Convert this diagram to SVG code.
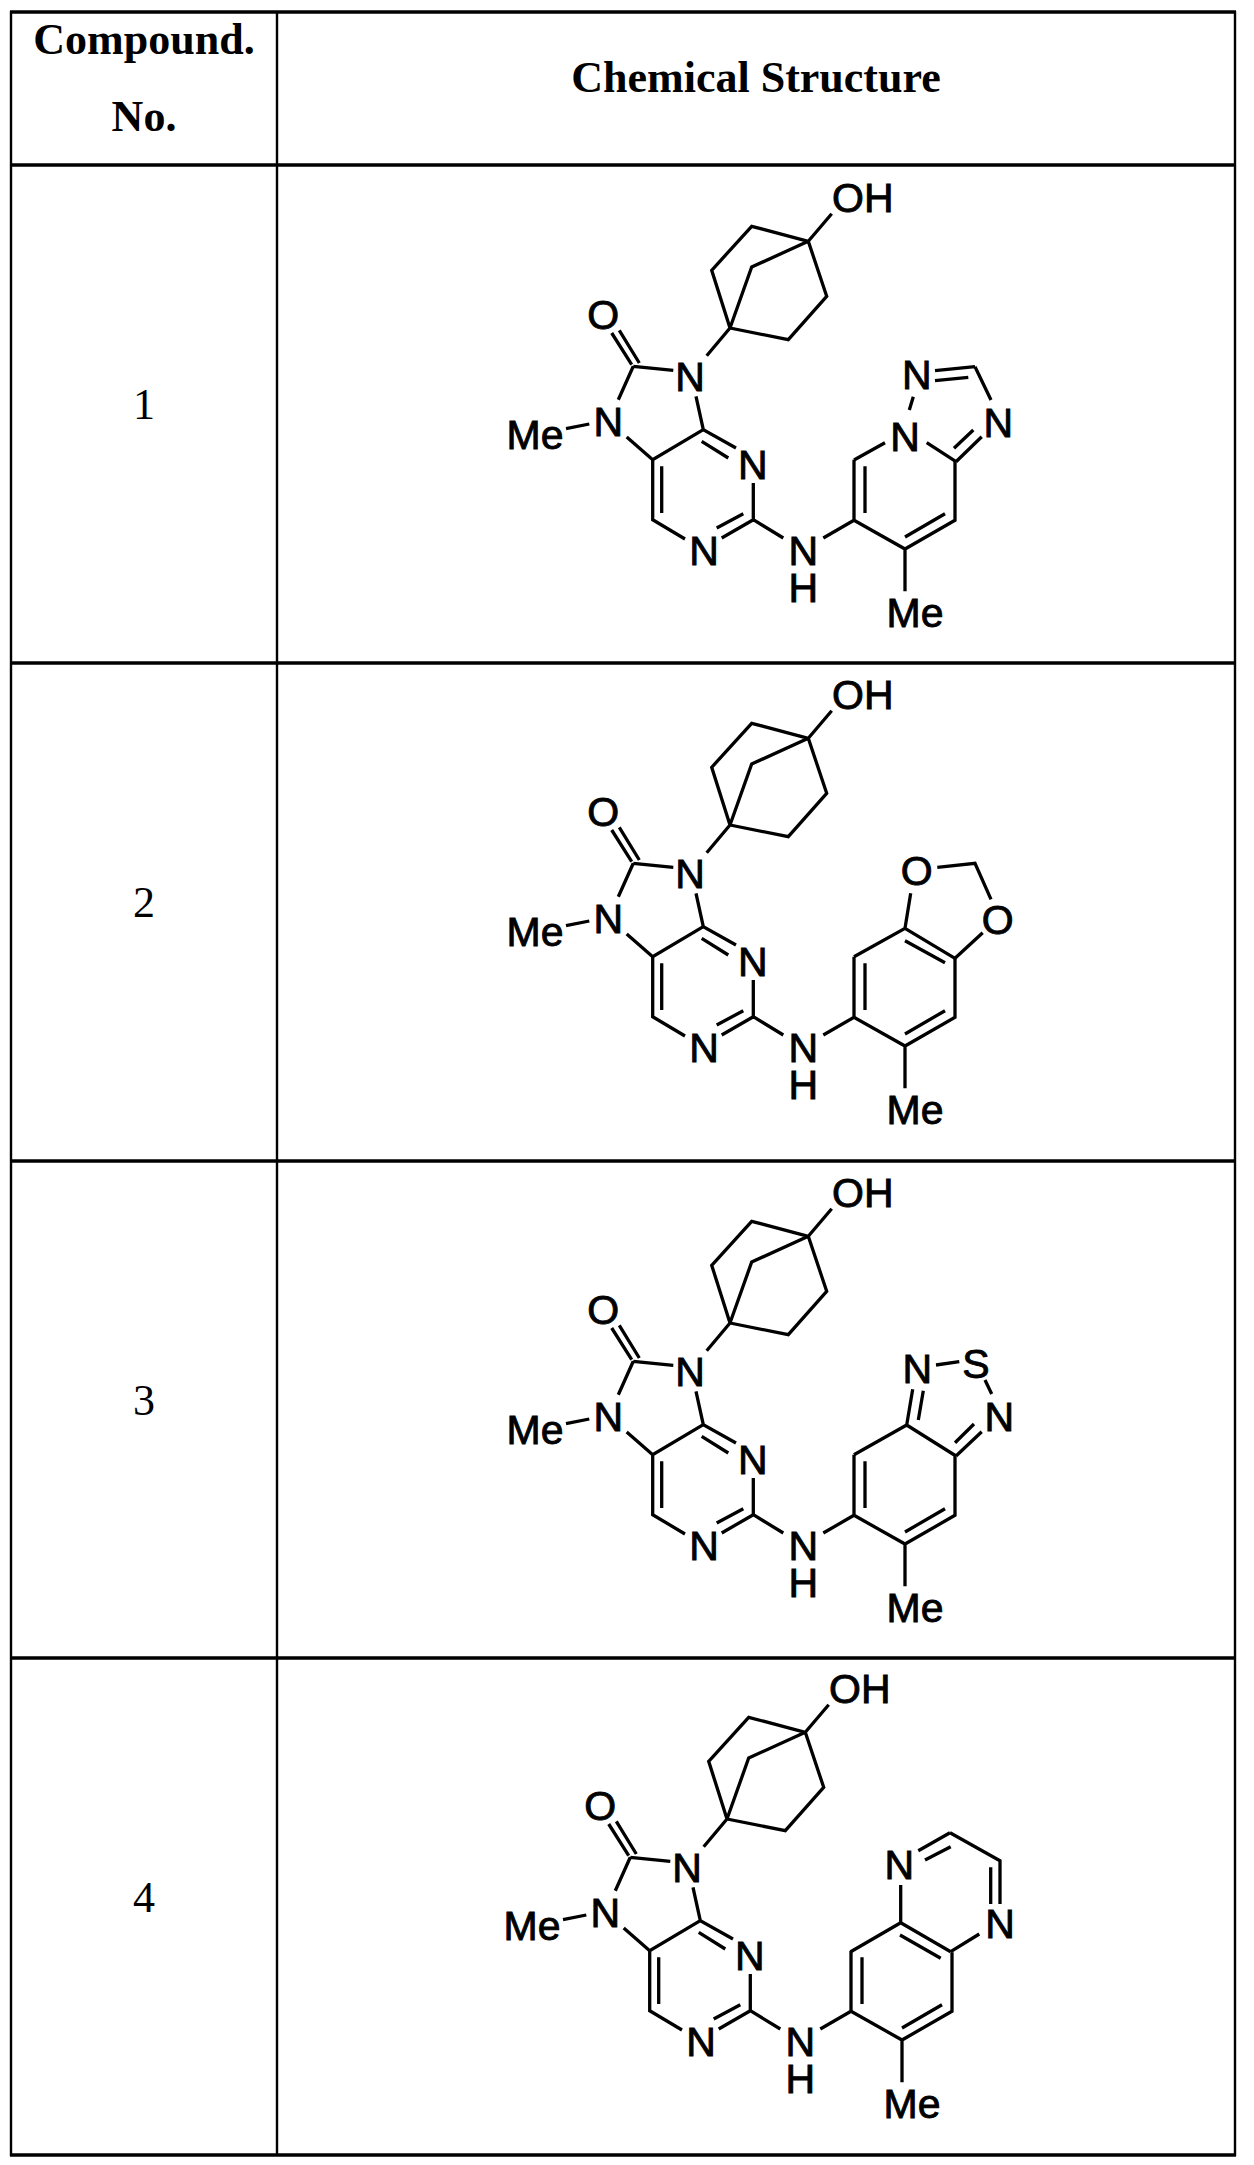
<svg xmlns="http://www.w3.org/2000/svg" xmlns:xlink="http://www.w3.org/1999/xlink" width="1254" height="2165" viewBox="0 0 1254 2165">
<style>
.b{stroke:#000;stroke-width:3.3;fill:none;stroke-linecap:butt}
.h{stroke:#000;stroke-width:3.4}
.v{stroke:#000;stroke-width:2.4}
.a{font-family:"Liberation Sans",Arial,sans-serif;font-size:41px;fill:#000;stroke:#000;stroke-width:0.9;text-anchor:middle}
.hd{font-family:"Liberation Serif","Times New Roman",serif;font-size:44px;font-weight:bold;fill:#000;text-anchor:middle}
.num{font-family:"Liberation Serif","Times New Roman",serif;font-size:44px;fill:#000;text-anchor:middle}
</style>
<defs>
<g id="scaffold" class="b">
<path d="M808.3,738.3L831.7,710.7M808.3,738.3L751.7,723.3L711.7,767.3L730,825M808.3,738.3L751.7,764L730,825M808.3,738.3L826.7,793.3L788.3,836.7L730,825M730,825L706.7,852.7"/>
<path d="M633.3,863.3L673.3,867.3M611.7,830L631.7,861.7M619.3,827.3L639.3,860M633.3,863.3L618.3,896.7M566,925.7L589.3,921M626.7,934L652.7,956.7L703.3,926.7M696,893.3L703.3,926.7L736,945M701.7,938.3L728.3,955M753.3,980L753.3,1016.7M652.7,956.7L652.7,1016.7L685,1036M661.7,963.3L661.7,1010M753.3,1016.7L721.7,1035M716.7,1025L743.3,1010.7M753.3,1016.7L783.3,1035"/>
<path d="M823.3,1035L854,1017.3L854,956.7M865,963.3L865,1010M854,1017.3L905,1046L955,1017.3L955,958.3M905,1034L945,1010.7M905,1046L905,1088.3"/>
</g>
</defs>
<g id="table">
<line class="h" x1="10" y1="12" x2="1236" y2="12"/>
<line class="h" x1="10" y1="165" x2="1236" y2="165"/>
<line class="h" x1="10" y1="663" x2="1236" y2="663"/>
<line class="h" x1="10" y1="1161" x2="1236" y2="1161"/>
<line class="h" x1="10" y1="1658" x2="1236" y2="1658"/>
<line class="h" x1="10" y1="2155" x2="1236" y2="2155"/>
<line class="v" x1="11" y1="11" x2="11" y2="2156"/>
<line class="v" x1="277" y1="11" x2="277" y2="2156"/>
<line class="v" x1="1235" y1="11" x2="1235" y2="2156"/>
<text class="hd" x="144" y="54">Compound.</text>
<text class="hd" x="144" y="131">No.</text>
<text class="hd" x="756" y="92">Chemical Structure</text>
<text class="num" x="144" y="419">1</text>
<text class="num" x="144" y="917">2</text>
<text class="num" x="144" y="1415">3</text>
<text class="num" x="144" y="1912">4</text>
</g>
<g id="compound1">
<use xlink:href="#scaffold" href="#scaffold" transform="translate(0,-497)"/>
<path class="b" d="M854,460L885,442.7M926.7,442.7L956,461.7M913.3,396.7L909.3,410M935,370.7L975,366.7M935,380.7L968.3,377.3M975,366.7L991,400M981.7,436.7L956,461.7M954,448.3L973.3,430"/>
<text class="a" x="832" y="212" style="text-anchor:start">OH</text>
<text class="a" x="603.3" y="329">O</text><text class="a" x="690" y="390.5">N</text><text class="a" x="608.3" y="435.5">N</text><text class="a" x="535" y="449">Me</text>
<text class="a" x="752.7" y="479">N</text><text class="a" x="704" y="565">N</text><text class="a" x="803.3" y="564.5">N</text><text class="a" x="803.3" y="601.5">H</text><text class="a" x="915" y="627">Me</text>
<text class="a" x="905" y="451">N</text><text class="a" x="916.7" y="389">N</text><text class="a" x="998.3" y="437">N</text>
</g>
<g id="compound2">
<use xlink:href="#scaffold" href="#scaffold"/>
<path class="b" d="M854,956.7L905,928.3L955,958.3M905,940.7L945,962.7M905,928.3L910.7,893.3M937.3,867.3L975,863.3L991,899.3M982.7,932.7L955,958.3"/>
<text class="a" x="832" y="709" style="text-anchor:start">OH</text>
<text class="a" x="603.3" y="826">O</text><text class="a" x="690" y="887.5">N</text><text class="a" x="608.3" y="932.5">N</text><text class="a" x="535" y="946">Me</text>
<text class="a" x="752.7" y="976">N</text><text class="a" x="704" y="1062">N</text><text class="a" x="803.3" y="1061.5">N</text><text class="a" x="803.3" y="1098.5">H</text><text class="a" x="915" y="1124">Me</text>
<text class="a" x="916.7" y="885">O</text><text class="a" x="997.7" y="933.5">O</text>
</g>
<g id="compound3">
<use xlink:href="#scaffold" href="#scaffold" transform="translate(0,498)"/>
<path class="b" d="M854,1454.7L906.7,1425L956,1456M906.7,1425L912.7,1389.3M918.3,1420L923.3,1390.7M936,1365L959.3,1361.7M985,1380L991.7,1394M981.7,1431.7L956,1456M955,1442.7L974,1424"/>
<text class="a" x="832" y="1207" style="text-anchor:start">OH</text>
<text class="a" x="603.3" y="1324">O</text><text class="a" x="690" y="1385.5">N</text><text class="a" x="608.3" y="1430.5">N</text><text class="a" x="535" y="1444">Me</text>
<text class="a" x="752.7" y="1474">N</text><text class="a" x="704" y="1560">N</text><text class="a" x="803.3" y="1559.5">N</text><text class="a" x="803.3" y="1596.5">H</text><text class="a" x="915" y="1622">Me</text>
<text class="a" x="917.3" y="1382.5">N</text><text class="a" x="976" y="1377.5">S</text><text class="a" x="999.3" y="1431">N</text>
</g>
<g id="compound4">
<use xlink:href="#scaffold" href="#scaffold" transform="translate(-3,994)"/>
<path class="b" d="M850.7,1951.7L900.7,1922.7L950.7,1951.7M900,1935L940.7,1958.3M900.7,1922.7L900.7,1885M918.3,1850.7L950,1832.7M925,1860L950.7,1846.7M950,1832.7L1000,1860.7L1000,1904M990.7,1867.3L990.7,1904M979.3,1934L950.7,1951.7"/>
<text class="a" x="829" y="1703" style="text-anchor:start">OH</text>
<text class="a" x="600.3" y="1820">O</text><text class="a" x="687" y="1881.5">N</text><text class="a" x="605.3" y="1926.5">N</text><text class="a" x="532" y="1940">Me</text>
<text class="a" x="749.7" y="1970">N</text><text class="a" x="701" y="2056">N</text><text class="a" x="800.3" y="2055.5">N</text><text class="a" x="800.3" y="2092.5">H</text><text class="a" x="912" y="2118">Me</text>
<text class="a" x="899.3" y="1879">N</text><text class="a" x="1000" y="1938">N</text>
</g>
</svg>
